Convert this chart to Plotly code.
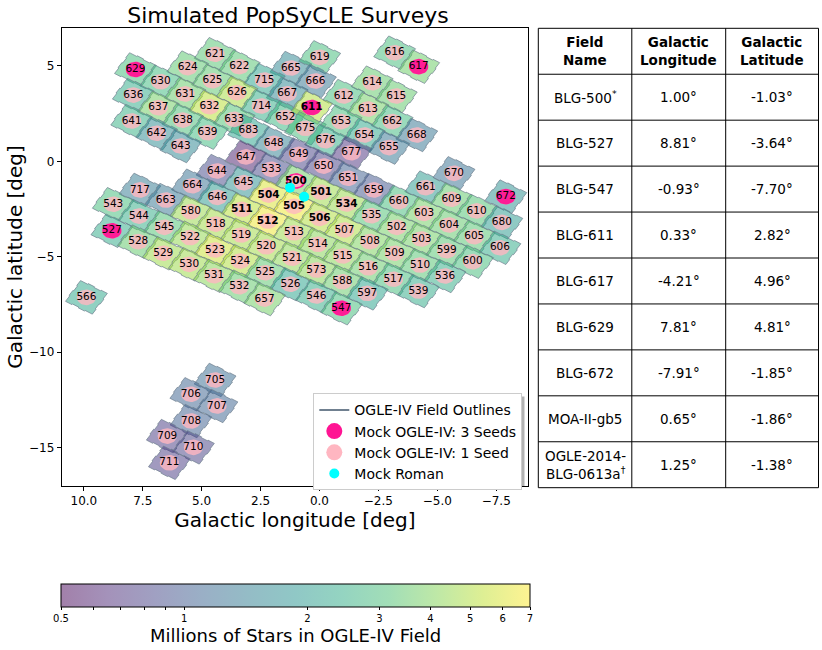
import math
import plotly.graph_objects as go
from plotly.colors import sample_colorscale

W, H = 822, 650
FONT = "DejaVu Sans"

# ---------------- data ----------------
field_ids = [621, 629, 624, 622, 665, 630, 625, 715, 636, 631, 626, 667, 637, 632, 714,
             641, 638, 633, 652, 642, 639, 683, 643, 648, 647,
             619, 616, 617, 666, 614, 612, 615, 611, 613, 675, 653, 662, 676, 654, 668,
             649, 677, 655, 650,
             644, 533, 717, 664, 645, 500, 543, 663, 646, 504, 544, 580, 511, 505, 527,
             545, 518, 512, 528, 522, 519, 513, 529, 523, 520, 530, 524, 521, 531, 525,
             566, 532, 526, 657,
             651, 670, 501, 659, 661, 672, 534, 660, 609, 506, 535, 603, 610, 680, 507,
             502, 604, 514, 508, 503, 605, 606, 515, 509, 599, 573, 516, 510, 600, 588,
             517, 536, 546, 597, 539, 547,
             705, 706, 707, 708, 709, 710, 711]
field_l = [4.43, 7.81, 5.59, 3.40, 1.21, 6.74, 4.54, 2.34, 7.90, 5.70, 3.50, 1.37, 6.84, 4.67, 2.47,
           7.97, 5.80, 3.62, 1.45, 6.91, 4.75, 3.01, 5.89, 1.94, 3.12,
           -0.01, -3.19, -4.21, 0.17, -2.24, -1.03, -3.26, 0.33, -2.06, 0.60, -0.92, -3.09, -0.26, -1.91, -4.13,
           0.88, -1.35, -2.95, -0.18,
           4.35, 2.04, 7.62, 5.39, 3.22, 1.00, 8.75, 6.52, 4.33, 2.16, 7.66, 5.46, 3.29, 1.08, 8.81,
           6.58, 4.40, 2.20, 7.69, 5.49, 3.32, 1.08, 6.63, 4.43, 2.26, 5.53, 3.36, 1.16, 4.47, 2.30,
           9.89, 3.40, 1.23, 2.33,
           -1.22, -5.71, -0.07, -2.31, -4.51, -7.91, -1.15, -3.37, -5.60, -0.01, -2.21, -4.44, -6.67, -7.74, -1.06,
           -3.28, -5.50, 0.07, -2.14, -4.33, -6.57, -7.66, -0.99, -3.19, -5.40, 0.13, -2.07, -4.27, -6.50, -0.97,
           -3.14, -5.33, 0.13, -2.03, -4.20, -0.93,
           4.43, 5.46, 4.35, 5.45, 6.46, 5.35, 6.37]
field_b = [5.61, 4.81, 4.91, 4.96, 4.89, 4.17, 4.22, 4.26, 3.47, 3.53, 3.60, 3.54, 2.81, 2.86, 2.90,
           2.11, 2.16, 2.20, 2.31, 1.47, 1.50, 1.60, 0.80, 0.94, 0.23,
           5.45, 5.69, 4.96, 4.21, 4.12, 3.42, 3.42, 2.82, 2.74, 1.73, 2.08, 2.08, 1.08, 1.38, 1.38,
           0.36, 0.45, 0.72, -0.25,
           -0.51, -0.42, -1.50, -1.28, -1.12, -1.03, -2.25, -2.03, -1.89, -1.77, -2.87, -2.64, -2.52, -2.36, -3.64,
           -3.46, -3.29, -3.13, -4.21, -4.00, -3.86, -3.75, -4.82, -4.65, -4.48, -5.40, -5.23, -5.08, -6.00, -5.84,
           -7.13, -6.57, -6.44, -7.22,
           -0.89, -0.63, -1.62, -1.50, -1.38, -1.85, -2.24, -2.12, -1.99, -2.99, -2.85, -2.73, -2.60, -3.20, -3.60,
           -3.46, -3.34, -4.35, -4.21, -4.07, -3.95, -4.53, -4.96, -4.82, -4.69, -5.70, -5.58, -5.44, -5.26, -6.31,
           -6.18, -6.01, -7.06, -6.92, -6.80, -7.70,
           -11.46, -12.21, -12.82, -13.61, -14.40, -14.99, -15.80]
field_mstars = [3.3, 3.0, 3.4, 3.3, 1.6, 2.9, 3.4, 2.2, 2.4, 3.6, 4.8, 1.6, 3.8, 5.2, 2.5,
                2.6, 3.1, 3.2, 2.8, 1.7, 2.9, 2.2, 1.6, 1.5, 0.6,
                3.0, 3.0, 3.7, 1.3, 3.5, 3.0, 3.5, 5.0, 3.8, 3.0, 3.0, 2.9, 2.5, 2.3, 1.3,
                0.8, 0.7, 1.3, 0.8,
                0.85, 0.85, 1.4, 1.25, 1.8, 3.8, 3.0, 1.35, 2.0, 6.0, 2.5, 4.5, 5.2, 6.5, 2.4,
                3.2, 4.7, 6.5, 3.5, 4.4, 4.7, 4.6, 4.6, 5.6, 4.7, 4.6, 5.0, 4.3, 4.2, 3.4,
                2.3, 3.5, 2.2, 3.8,
                1.05, 1.25, 4.6, 0.95, 2.0, 1.8, 4.5, 3.0, 3.5, 5.0, 3.2, 3.8, 3.2, 2.0, 4.9,
                3.8, 3.5, 4.2, 4.0, 3.8, 3.3, 2.4, 4.2, 3.8, 3.3, 4.2, 3.6, 3.3, 3.0, 3.6,
                3.0, 2.5, 2.5, 2.2, 2.4, 3.0,
                1.2, 1.1, 1.1, 1.05, 0.75, 0.8, 0.75]

bold_fields = [500, 501, 504, 505, 506, 511, 512, 534, 611]
seed3_fields = [500, 527, 547, 611, 617, 629, 672]
seed1_overlay_fields = [500]
roman_l = [1.25, 0.65]
roman_b = [-1.38, -1.86]

x_ticks = [10.0, 7.5, 5.0, 2.5, 0.0, -2.5, -5.0, -7.5]
y_ticks = [-15, -10, -5, 0, 5]
cbar_ticks = [0.5, 0.6, 0.7, 0.8, 0.9, 1, 2, 3, 4, 5, 6, 7]
cbar_ticktext = ["0.5", " ", " ", " ", " ", "1", "2", "3", "4", "5", "6", "7"]
cbar_title = "Millions of Stars in OGLE-IV Field"

table_headers = ["<b>Field<br>Name</b>", "<b>Galactic<br>Longitude</b>", "<b>Galactic<br>Latitude</b>"]
table_names = ["BLG-500<sup>*</sup>", "BLG-527", "BLG-547", "BLG-611", "BLG-617", "BLG-629",
               "BLG-672", "MOA-II-gb5", "OGLE-2014-<br>BLG-0613a<sup>†</sup>"]
table_lon = ["1.00°", "8.81°", "-0.93°", "0.33°", "-4.21°", "7.81°", "-7.91°", "0.65°", "1.25°"]
table_lat = ["-1.03°", "-3.64°", "-7.70°", "2.82°", "4.96°", "4.81°", "-1.85°", "-1.86°", "-1.38°"]

# ---------------- styling helpers ----------------
def px_x(px):
    return px / W


def px_y(py):
    return 1 - py / H


LOGMIN, LOGMAX = math.log10(0.5), math.log10(7.0)


def norm(v):
    return min(1.0, max(0.0, (math.log10(v) - LOGMIN) / (LOGMAX - LOGMIN)))


def rgb_of(s):
    nums = s[s.index("(") + 1:s.index(")")].split(",")
    return [float(n) for n in nums[:3]]


# camera footprint template (local u,v in deg) with stepped CCD edges
HU, HV, TOOTH = 0.64, 0.61, 0.04


def footprint():
    pts = []
    ncol, nrow = 8, 4
    for i in range(ncol):
        u0 = -HU + 2 * HU * i / ncol
        u1 = -HU + 2 * HU * (i + 1) / ncol
        v = HV + (TOOTH if (i // 2) % 2 else 0)
        pts += [(u0, v), (u1, v)]
    for j in range(nrow):
        v0 = HV - 2 * HV * j / nrow
        v1 = HV - 2 * HV * (j + 1) / nrow
        u = HU + (TOOTH if j % 2 else 0)
        pts += [(u, v0), (u, v1)]
    for i in range(ncol):
        u0 = HU - 2 * HU * i / ncol
        u1 = HU - 2 * HU * (i + 1) / ncol
        v = -HV - (TOOTH if (i // 2) % 2 else 0)
        pts += [(u0, v), (u1, v)]
    for j in range(nrow):
        v0 = -HV + 2 * HV * j / nrow
        v1 = -HV + 2 * HV * (j + 1) / nrow
        u = -HU - (TOOTH if j % 2 else 0)
        pts += [(u, v0), (u, v1)]
    return pts


FOOT = footprint()
THETA = math.radians(-32.3)
CT, ST = math.cos(THETA), math.sin(THETA)

fig = go.Figure()

# field polygons
for fid, lc, bc, m in zip(field_ids, field_l, field_b, field_mstars):
    xs, ys = [], []
    for (u, v) in FOOT:
        dX = u * CT - v * ST
        dY = u * ST + v * CT
        xs.append(lc - dX)
        ys.append(bc + dY)
    xs.append(xs[0])
    ys.append(ys[0])
    r, g, b = rgb_of(sample_colorscale("Viridis", [norm(m)])[0])
    fig.add_trace(go.Scatter(
        x=xs, y=ys, mode="lines", fill="toself",
        fillcolor=f"rgba({r:.0f},{g:.0f},{b:.0f},0.5)",
        line=dict(color="rgba(112,128,144,0.9)", width=0.8),
        showlegend=False, hoverinfo="skip"))


def ellipses(ls, bs, rad):
    xs, ys = [], []
    for lc, bc in zip(ls, bs):
        for k in range(37):
            t = 2 * math.pi * k / 36
            xs.append(lc + rad * math.cos(t))
            ys.append(bc + rad * math.sin(t))
        xs.append(None)
        ys.append(None)
    return xs, ys


lookup = dict(zip(field_ids, zip(field_l, field_b)))

ex, ey = ellipses(field_l, field_b, 0.41)
fig.add_trace(go.Scatter(x=ex, y=ey, mode="lines", fill="toself",
                         fillcolor="rgba(255,182,193,0.8)", line=dict(width=0),
                         showlegend=False, hoverinfo="skip"))
s3l = [lookup[f][0] for f in seed3_fields]
s3b = [lookup[f][1] for f in seed3_fields]
ex, ey = ellipses(s3l, s3b, 0.41)
fig.add_trace(go.Scatter(x=ex, y=ey, mode="lines", fill="toself",
                         fillcolor="rgba(255,20,147,0.95)", line=dict(width=0),
                         showlegend=False, hoverinfo="skip"))
s1l = [lookup[f][0] for f in seed1_overlay_fields]
s1b = [lookup[f][1] for f in seed1_overlay_fields]
ex, ey = ellipses(s1l, s1b, 0.33)
fig.add_trace(go.Scatter(x=ex, y=ey, mode="lines", fill="toself",
                         fillcolor="rgb(255,182,193)", line=dict(width=0),
                         showlegend=False, hoverinfo="skip"))

# labels
texts = [f"<b>{f}</b>" if f in bold_fields else str(f) for f in field_ids]
fig.add_trace(go.Scatter(x=field_l, y=field_b, mode="text", text=texts,
                         textposition="middle center",
                         textfont=dict(size=10.5, color="black", family=FONT),
                         showlegend=False, hoverinfo="skip"))

# legend entries
fig.add_trace(go.Scatter(x=[None], y=[None], mode="lines", name="OGLE-IV Field Outlines",
                         line=dict(color="slategray", width=2)))
fig.add_trace(go.Scatter(x=[None], y=[None], mode="markers", name="Mock OGLE-IV: 3 Seeds",
                         marker=dict(color="deeppink", size=16)))
fig.add_trace(go.Scatter(x=[None], y=[None], mode="markers", name="Mock OGLE-IV: 1 Seed",
                         marker=dict(color="lightpink", size=16)))
fig.add_trace(go.Scatter(x=roman_l, y=roman_b, mode="markers", name="Mock Roman",
                         marker=dict(color="cyan", size=10), hoverinfo="skip"))

# colorbar (carried by invisible markers at the field centers)
cb_scale = []
for k in range(11):
    t = k / 10
    r, g, b = rgb_of(sample_colorscale("Viridis", [t])[0])
    cb_scale.append([t, f"rgb({(r + 255) / 2:.0f},{(g + 255) / 2:.0f},{(b + 255) / 2:.0f})"])
fig.add_trace(go.Scatter(
    x=field_l, y=field_b, mode="markers", showlegend=False, hoverinfo="skip",
    marker=dict(size=1, opacity=0, color=[math.log10(v) for v in field_mstars],
                colorscale=cb_scale, cmin=LOGMIN, cmax=LOGMAX, showscale=True,
                colorbar=dict(orientation="h", x=px_x(61), xanchor="left",
                              y=px_y(584), yanchor="top", len=469, lenmode="pixels",
                              thickness=22.5, thicknessmode="pixels", xpad=0, ypad=0,
                              outlinecolor="black", outlinewidth=1,
                              tickvals=[math.log10(v) for v in cbar_ticks],
                              ticktext=cbar_ticktext, ticks="outside", ticklen=3,
                              tickcolor="black",
                              tickfont=dict(size=10, color="black", family=FONT)))))

# ---------------- table ----------------
T_L, T_R, T_T, T_B = 538.3, 818.5, 28.3, 487.7
col_x = [538.3, 631.8, 725.7, 818.5]
nrows = 1 + len(table_names)
row_h = (T_B - T_T) / nrows
shapes = []
shapes.append(dict(type="rect", xref="paper", yref="paper", x0=px_x(T_L), x1=px_x(T_R),
                   y0=px_y(T_B), y1=px_y(T_T), line=dict(color="black", width=1)))
for cx in col_x[1:-1]:
    shapes.append(dict(type="line", xref="paper", yref="paper", x0=px_x(cx), x1=px_x(cx),
                       y0=px_y(T_B), y1=px_y(T_T), line=dict(color="black", width=1)))
for i in range(1, nrows):
    yy = T_T + i * row_h
    shapes.append(dict(type="line", xref="paper", yref="paper", x0=px_x(T_L), x1=px_x(T_R),
                       y0=px_y(yy), y1=px_y(yy), line=dict(color="black", width=1)))
# legend shadow
shapes.append(dict(type="rect", xref="paper", yref="paper", layer="above",
                   x0=px_x(316.5), x1=px_x(524.5), y0=px_y(486.5), y1=px_y(396.5),
                   fillcolor="rgba(0,0,0,0.3)", line=dict(width=0)))

annotations = []
rows = [table_headers] + [list(r) for r in zip(table_names, table_lon, table_lat)]
for i, row in enumerate(rows):
    yc = T_T + (i + 0.5) * row_h
    for j, txt in enumerate(row):
        xc = (col_x[j] + col_x[j + 1]) / 2
        annotations.append(dict(x=px_x(xc), y=px_y(yc), xref="paper", yref="paper",
                                text=txt, showarrow=False, xanchor="center", yanchor="middle",
                                align="center",
                                font=dict(size=13.5, color="black", family=FONT)))
# colorbar title
annotations.append(dict(x=px_x(295.5), y=px_y(635), xref="paper", yref="paper",
                        text=cbar_title, showarrow=False, xanchor="center", yanchor="middle",
                        font=dict(size=18, color="black", family=FONT)))

fig.update_layout(
    width=W, height=H,
    margin=dict(l=0, r=0, t=0, b=0, autoexpand=False),
    paper_bgcolor="white", plot_bgcolor="white",
    font=dict(family=FONT, color="black"),
    title=dict(text="Simulated PopSyCLE Surveys", x=px_x(288), xanchor="center",
               y=px_y(15), yanchor="middle", font=dict(size=22, color="black", family=FONT)),
    xaxis=dict(domain=[px_x(61.7), px_x(528)], range=[10.94, -8.85],
               tickvals=x_ticks, tickformat=".1f", ticks="outside", ticklen=4,
               tickcolor="black", tickfont=dict(size=12, color="black"),
               showline=True, mirror=True, linecolor="black", linewidth=1,
               showgrid=False, zeroline=False,
               title=dict(text="Galactic longitude [deg]", standoff=0,
                          font=dict(size=20, color="black"))),
    yaxis=dict(domain=[px_y(485.7), px_y(28.3)], range=[-17.0, 6.97],
               tickvals=y_ticks, ticks="outside", ticklen=4,
               tickcolor="black", tickfont=dict(size=12, color="black"),
               showline=True, mirror=True, linecolor="black", linewidth=1,
               showgrid=False, zeroline=False,
               title=dict(text="Galactic latitude [deg]", standoff=0,
                          font=dict(size=20, color="black"))),
    legend=dict(x=px_x(313.3), y=px_y(393.3), xanchor="left", yanchor="top",
                bgcolor="white", bordercolor="#cccccc", borderwidth=1,
                font=dict(size=14, color="black", family=FONT),
                itemsizing="trace", tracegroupgap=0),
    shapes=shapes,
    annotations=annotations,
)

fig.write_html("out.html", config={"displayModeBar": False},
               post_script="document.body.style.margin='0';")
